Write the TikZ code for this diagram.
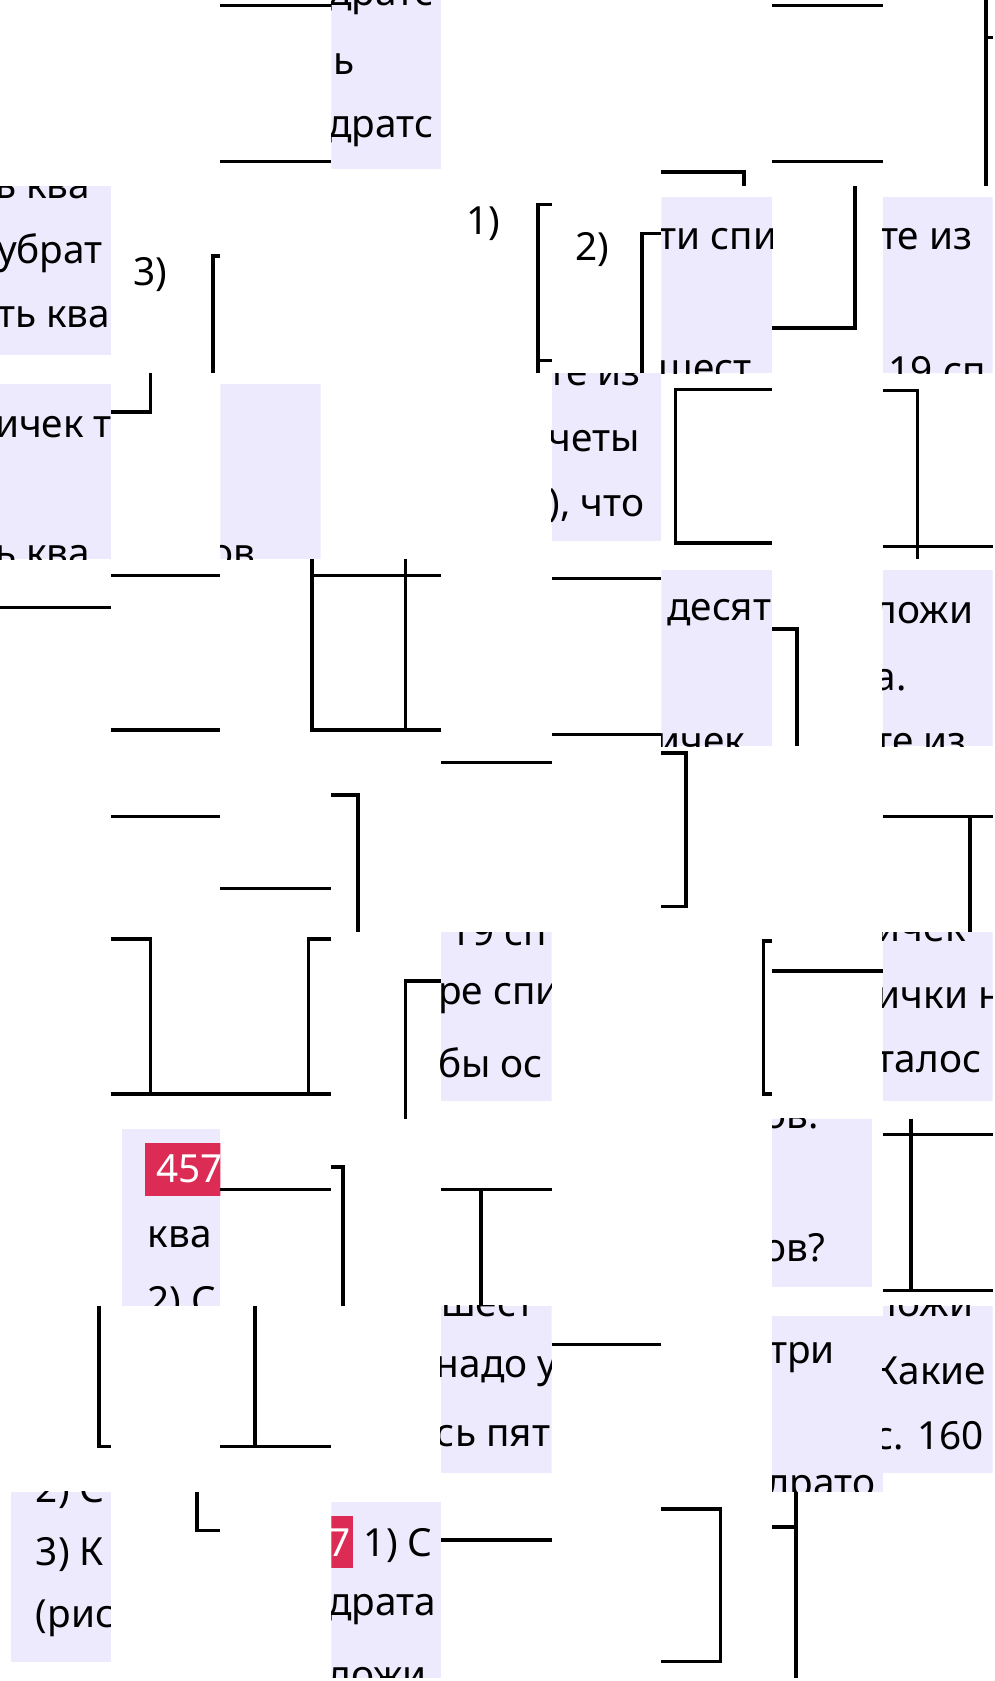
\documentclass[tikz,border=0pt]{standalone}
\usepackage{fontspec}
\setmainfont{Noto Sans}
\definecolor{lav}{HTML}{ECEAFC}
\definecolor{rd}{HTML}{DC2B55}
\tikzset{ln/.style={line width=1.9pt,black},
 tx/.style={anchor=west,inner sep=0pt,font=\fontsize{20.5}{20.5}\selectfont},
 wt/.style={anchor=west,inner sep=0pt,font=\fontsize{20.5}{20.5}\selectfont\bfseries,text=white}}
\newcommand\lv[5]{\begin{scope}\clip (#1,#2) rectangle (#3,#4); \fill[lav] (#1,#2) rectangle (#3,#4); #5\end{scope}}
\begin{document}
\begin{tikzpicture}[x=0.02cm,y=-0.02cm]
\useasboundingbox (0,0) rectangle (925,1563);
\lv{308}{0}{410}{157}{\node[tx] (t1) at (305,0) {дратс}; \node[tx] (t2) at (310,60) {ь}; \node[tx] (t3) at (305,122) {дратс};}
\lv{0}{173}{103}{330}{\node[tx] (t4) at (-5,175) {ь ква}; \node[tx] (t5) at (-3,235) {убрат}; \node[tx] (t6) at (-3,295) {ть ква};}
\lv{0}{357}{103}{520}{\node[tx] (t7) at (-5,397) {ичек т}; \node[tx] (t8) at (-5,517) {ь ква};}
\lv{205}{357}{298}{520}{\node[tx] (t9) at (195,517) {ов};}
\lv{615}{183}{718}{347}{\node[tx] (t10) at (612,222) {ти спи}; \node[tx] (t11) at (612,345) {шест};}
\lv{821}{183}{923}{347}{\node[tx] (t12) at (818,222) {те из}; \node[tx] (t13) at (826,345) {19 сп};}
\lv{513}{347}{615}{503}{\node[tx] (t14) at (510,349) {те из}; \node[tx] (t15) at (510,410) {четы}; \node[tx] (t16) at (510,470) {), что};}
\lv{615}{530}{718}{694}{\node[tx] (t17) at (620,570) {десят}; \node[tx] (t18) at (610,692) {ичек};}
\lv{821}{530}{923}{694}{\node[tx] (t19) at (813,570) {ложи}; \node[tx] (t20) at (813,632) {а.}; \node[tx] (t21) at (813,692) {те из};}
\lv{410}{867}{513}{1024}{\node[tx] (t22) at (418,866) {19 сп}; \node[tx] (t23) at (407,928) {ре спи}; \node[tx] (t24) at (407,988) {бы ос};}
\lv{821}{867}{923}{1024}{\node[tx] (t25) at (815,866) {ичек}; \node[tx] (t26) at (815,928) {ички н}; \node[tx] (t27) at (815,988) {талос};}
\lv{718}{1040}{811}{1197}{\node[tx] (t28) at (710,1040) {ов.}; \node[tx] (t29) at (710,1160) {ов?};}
\lv{113}{1050}{205}{1214}{\fill[rd] (135,1063) rectangle (210,1112); \node[wt] (t30) at (145,1087) {457}; \node[tx] (t31) at (137,1150) {ква}; \node[tx] (t32) at (137,1212) {2) С};}
\lv{410}{1214}{513}{1370}{\node[tx] (t33) at (410,1214) {шест}; \node[tx] (t34) at (405,1275) {надо у}; \node[tx] (t35) at (405,1335) {сь пят};}
\lv{718}{1224}{821}{1387}{\node[tx] (t36) at (715,1262) {три}; \node[tx] (t37) at (712,1386) {драто};}
\lv{821}{1214}{923}{1370}{\node[tx] (t38) at (813,1214) {ложи}; \node[tx] (t39) at (813,1275) {Какие}; \node[tx] (t40) at (813,1335) {с. 160};}
\lv{10}{1387}{103}{1545}{\node[tx] (t41) at (33,1387) {2) С}; \node[tx] (t42) at (33,1445) {3) К}; \node[tx] (t43) at (33,1505) {(рис};}
\lv{308}{1397}{410}{1560}{\fill[rd] (300,1410) rectangle (328,1458); \node[wt] (t44) at (305,1434) {7}; \node[tx] (t45) at (338,1437) {1) С}; \node[tx] (t46) at (305,1497) {драта}; \node[tx] (t47) at (305,1560) {ложи};}
\node[tx] (p3) at (124,255) {3)};
\node[tx] (p1) at (433,208) {1)};
\node[tx] (p2) at (535,232) {2)};
\draw[ln] (205,5)--(308,5) (205,150)--(308,150) (718,5)--(821,5) (718,150)--(821,150);
\draw[ln] (615,160)--(692,160)--(692,173) (917,0)--(917,173) (917,35)--(923,35);
\draw[ln] (205,238)--(198,238)--(198,347);
\draw[ln] (513,190)--(500,190)--(500,347) (500,335)--(513,335);
\draw[ln] (615,217)--(597,217)--(597,347);
\draw[ln] (795,173)--(795,305)--(718,305);
\draw[ln] (103,383)--(140,383)--(140,347);
\draw[ln] (718,362)--(628,362)--(628,505)--(718,505);
\draw[ln] (821,363)--(853,363)--(853,520) (821,508)--(923,508);
\draw[ln] (0,565)--(103,565) (103,535)--(205,535) (103,679)--(205,679);
\draw[ln] (410,535)--(290,535) (290,520)--(290,679)--(410,679) (377,520)--(377,679);
\draw[ln] (513,538)--(615,538) (513,683)--(615,683);
\draw[ln] (718,585)--(741,585)--(741,694);
\draw[ln] (410,709)--(513,709);
\draw[ln] (615,700)--(638,700)--(638,843)--(615,843);
\draw[ln] (103,759)--(205,759) (205,826)--(308,826);
\draw[ln] (308,739)--(333,739)--(333,867);
\draw[ln] (821,759)--(923,759) (902,759)--(902,867);
\draw[ln] (103,873)--(140,873)--(140,1017) (103,1017)--(308,1017) (308,873)--(287,873)--(287,1017);
\draw[ln] (410,912)--(377,912)--(377,1040);
\draw[ln] (718,903)--(821,903) (718,875)--(710,875)--(710,1017)--(718,1017);
\draw[ln] (821,1055)--(923,1055) (847,1040)--(847,1200) (821,1200)--(923,1200);
\draw[ln] (205,1106)--(308,1106) (308,1085)--(319,1085)--(319,1214);
\draw[ln] (410,1106)--(513,1106) (447,1106)--(447,1214);
\draw[ln] (92,1214)--(92,1345)--(103,1345) (205,1345)--(308,1345) (237,1214)--(237,1345);
\draw[ln] (513,1250)--(615,1250);
\draw[ln] (183,1387)--(183,1423)--(205,1423);
\draw[ln] (410,1432)--(513,1432);
\draw[ln] (615,1403)--(670,1403)--(670,1545)--(615,1545);
\draw[ln] (718,1420)--(740,1420) (740,1387)--(740,1560);
\end{tikzpicture}
\end{document}
